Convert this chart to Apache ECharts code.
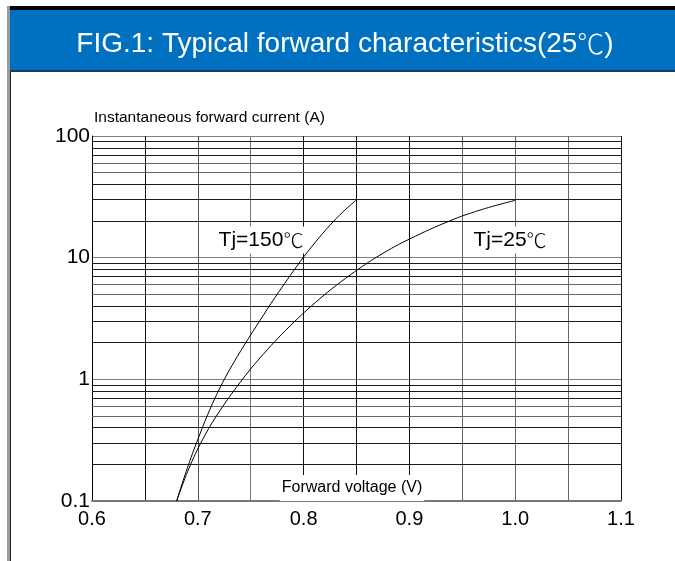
<!DOCTYPE html>
<html>
<head>
<meta charset="utf-8">
<script src="https://cdn.jsdelivr.net/npm/echarts@6/dist/echarts.min.js"></script>
<style>
html,body{margin:0;padding:0;background:#fff;}
#c{width:675px;height:561px;}
</style>
</head>
<body>
<div id="c"></div>
<script>
// ---- data ----
const titleMain = 'FIG.1: Typical forward characteristics(25';
const titleEnd = ')';
const degC = '\u2103';
const yAxisTitle = 'Instantaneous forward current (A)';
const xAxisTitle = 'Forward voltage (V)';
const xTickLabels = ['0.6', '0.7', '0.8', '0.9', '1.0', '1.1'];
const yTickLabels = ['0.1', '1', '10', '100'];
const yMinorLines = [0.2, 0.3, 0.4, 0.5, 0.6, 0.7, 0.8, 0.9,
                     2, 3, 4, 5, 6, 7, 8, 9,
                     20, 30, 40, 50, 60, 70, 80, 90];
const tj150 = [[0.68, 0.1], [0.6907, 0.193], [0.7021, 0.357], [0.7115, 0.567], [0.721, 0.852],
               [0.7304, 1.215], [0.7446, 1.954], [0.7588, 3.05], [0.773, 4.71], [0.7966, 9.24],
               [0.8108, 13.3], [0.825, 18.5], [0.8372, 23.8], [0.8495, 29.6]];
const tj25 = [[0.68, 0.1], [0.6926, 0.194], [0.7068, 0.348], [0.721, 0.554], [0.7399, 0.941],
              [0.7588, 1.50], [0.7871, 2.74], [0.8155, 4.61], [0.8439, 7.19], [0.8722, 10.5],
              [0.9006, 14.3], [0.9384, 20.1], [0.9667, 24.6], [1.0, 29.6]];
const label150 = 'Tj=150';
const label25 = 'Tj=25';

const FONT = '"Liberation Sans", Arial, sans-serif';
const CJK = '"Noto Sans CJK SC", "Liberation Sans", sans-serif';
const chart = echarts.init(document.getElementById('c'), null, {renderer: 'canvas'});

function minorColor(v) {
  const d = Math.round(v / Math.pow(10, Math.floor(Math.log10(v) + 1e-9)));
  return (d === 5 || d === 6) ? '#666' : '#1a1a1a';
}

function richLabel(size, color) {
  return {
    a: {fontFamily: FONT, fontSize: size, fill: color, color: color},
    b: {fontFamily: CJK, fontSize: size - 1, fill: color, color: color, fontWeight: 300}
  };
}

chart.setOption({
  animation: false,
  backgroundColor: '#fff',
  grid: {left: 92, top: 136, right: 54, bottom: 60, containLabel: false},
  xAxis: {
    type: 'value', min: 0.6, max: 1.1, interval: 0.05,
    axisLine: {show: true, onZero: false, lineStyle: {color: '#777', width: 2}},
    axisTick: {show: false},
    axisLabel: {
      margin: 8, color: '#000', fontSize: 20, fontFamily: FONT,
      formatter: function (v) {
        const i = Math.round((v - 0.6) / 0.05);
        return i % 2 === 0 ? xTickLabels[i / 2] : '';
      }
    },
    splitLine: {show: true, lineStyle: {width: 1,
      color: ['#000', '#111', '#555', '#777', '#111', '#111', '#111', '#666', '#666', '#666', '#111']}}
  },
  yAxis: {
    type: 'log', logBase: 10, min: 0.1, max: 100,
    name: yAxisTitle, nameLocation: 'end', nameGap: 8,
    nameTextStyle: {align: 'left', color: '#000', fontSize: 15.5, fontFamily: FONT, padding: [0, 0, 0, 2]},
    axisLine: {show: true, lineStyle: {color: '#000', width: 1}},
    axisTick: {show: false},
    axisLabel: {
      margin: 2, color: '#000', fontSize: 21, fontFamily: FONT,
      formatter: function (v) {
        const i = Math.round(Math.log10(v) + 1);
        return yTickLabels[i];
      }
    },
    splitLine: {show: true, lineStyle: {color: '#808080', width: 1}}
  },
  graphic: [
    {type: 'rect', shape: {x: 7, y: 6, width: 668, height: 4}, style: {fill: '#000'}, z: 10},
    {type: 'rect', shape: {x: 7, y: 6, width: 3, height: 555}, style: {fill: '#9a9a9a'}, z: 10},
    {type: 'rect', shape: {x: 10, y: 71, width: 1, height: 490}, style: {fill: '#222'}, z: 10},
    {type: 'rect', shape: {x: 10, y: 10, width: 665, height: 61}, style: {fill: '#0070C0'}, z: 10},
    {type: 'rect', shape: {x: 10, y: 70, width: 665, height: 2}, style: {fill: '#1f3a5a'}, z: 10},
    {type: 'text', x: 345, y: 44, z: 11,
      style: {text: '{a|' + titleMain + '}{b|' + degC + '}{a|' + titleEnd + '}', rich: richLabel(28, '#fff'),
        fill: '#fff', textAlign: 'center', textVerticalAlign: 'middle'}},
    {type: 'text', x: 261, y: 240, z: 5,
      style: {text: '{a|' + label150 + '}{b|' + degC + '}', rich: richLabel(21, '#000'), fill: '#000',
        textAlign: 'center', textVerticalAlign: 'middle', backgroundColor: '#fff', padding: [3, 1, 3, 1]}},
    {type: 'text', x: 510, y: 240, z: 5,
      style: {text: '{a|' + label25 + '}{b|' + degC + '}', rich: richLabel(21, '#000'), fill: '#000',
        textAlign: 'center', textVerticalAlign: 'middle', backgroundColor: '#fff', padding: [3, 1, 3, 1]}},
    {type: 'text', x: 352, y: 488, z: 5,
      style: {text: xAxisTitle, fill: '#000', font: '16px ' + FONT, textAlign: 'center', textVerticalAlign: 'middle',
        backgroundColor: '#fff', padding: [6, 2, 4, 2]}}
  ],
  series: [
    {
      type: 'line', data: [], z: 1, silent: true,
      markLine: {
        silent: true, symbol: 'none', label: {show: false}, animation: false,
        data: yMinorLines.map(v => ({yAxis: v, lineStyle: {type: 'solid', width: 1, color: minorColor(v)}}))
      }
    },
    {name: label150, type: 'line', data: tj150, smooth: 0.4, showSymbol: false, z: 6,
      lineStyle: {color: '#000', width: 1}},
    {name: label25, type: 'line', data: tj25, smooth: 0.4, showSymbol: false, z: 6,
      lineStyle: {color: '#000', width: 1}}
  ]
});
</script>
</body>
</html>
